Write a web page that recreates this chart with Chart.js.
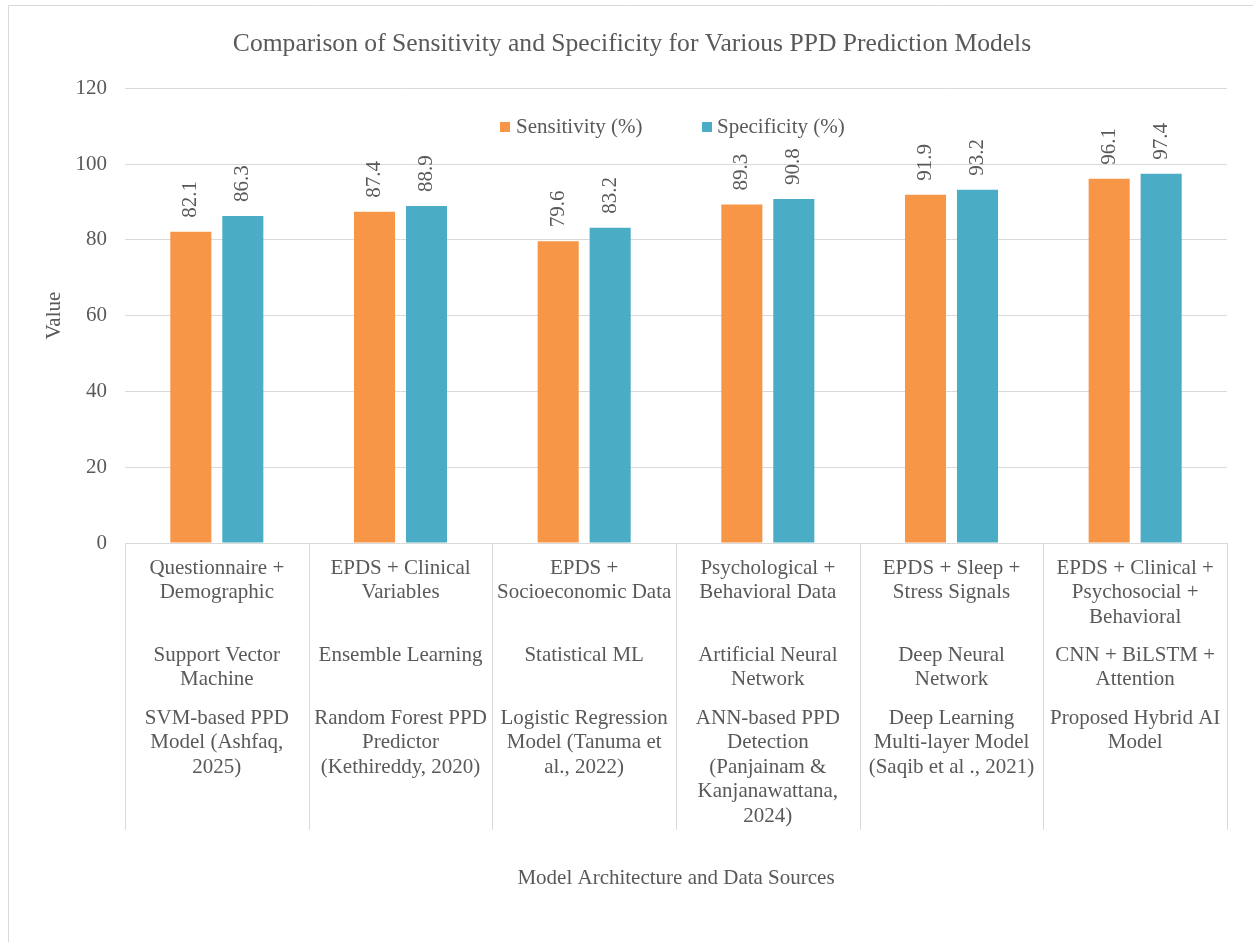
<!DOCTYPE html>
<html>
<head>
<meta charset="utf-8">
<script src="https://cdn.jsdelivr.net/npm/chart.js@4.4.1/dist/chart.umd.min.js"></script>
<style>
html,body{margin:0;padding:0;background:#fff;}
#wrap{width:1253px;height:942px;position:relative;}
</style>
</head>
<body>
<div id="wrap"><canvas id="c" width="1253" height="942"></canvas></div>
<script>
// ---- data ----
const dataSources = [
  ["Questionnaire +", "Demographic"],
  ["EPDS + Clinical", "Variables"],
  ["EPDS +", "Socioeconomic Data"],
  ["Psychological +", "Behavioral Data"],
  ["EPDS + Sleep +", "Stress Signals"],
  ["EPDS + Clinical +", "Psychosocial +", "Behavioral"]
];
const modelTypes = [
  ["Support Vector", "Machine"],
  ["Ensemble Learning"],
  ["Statistical ML"],
  ["Artificial Neural", "Network"],
  ["Deep Neural", "Network"],
  ["CNN + BiLSTM +", "Attention"]
];
const modelNames = [
  ["SVM-based PPD", "Model (Ashfaq,", "2025)"],
  ["Random Forest PPD", "Predictor", "(Kethireddy, 2020)"],
  ["Logistic Regression", "Model (Tanuma et", "al., 2022)"],
  ["ANN-based PPD", "Detection", "(Panjainam &", "Kanjanawattana,", "2024)"],
  ["Deep Learning", "Multi-layer Model", "(Saqib et al ., 2021)"],
  ["Proposed Hybrid AI", "Model"]
];
const sensitivity = [82.1, 87.4, 79.6, 89.3, 91.9, 96.1];
const specificity = [86.3, 88.9, 83.2, 90.8, 93.2, 97.4];
const seriesNames = ["Sensitivity (%)", "Specificity (%)"];
const yTicks = [0, 20, 40, 60, 80, 100, 120];

const FONT = "'Liberation Serif', 'Times New Roman', serif";
const TXT = "#595959";
const GRID = "#d9d9d9";
const COLORS = ["#F79646", "#4BACC6"];

const catLabels = modelNames.map(a => a.join(" "));

const multiLevelPlugin = {
  id: "multiLevel",
  afterDraw(chart) {
    const ctx = chart.ctx;
    const xs = chart.scales.x;
    const area = chart.chartArea;
    const n = catLabels.length;
    const w = (area.right - area.left) / n;
    ctx.save();
    // outer border
    ctx.strokeStyle = GRID; ctx.lineWidth = 1;
    ctx.beginPath();
    ctx.moveTo(8.5, 942); ctx.lineTo(8.5, 5.5); ctx.lineTo(1253, 5.5);
    ctx.stroke();
    // separators
    ctx.beginPath();
    for (let i = 0; i <= n; i++) {
      const x = Math.round(area.left + i * w) + 0.5;
      ctx.moveTo(x, area.bottom); ctx.lineTo(x, 830);
    }
    ctx.stroke();
    // labels
    ctx.fillStyle = TXT;
    ctx.font = "21px " + FONT;
    ctx.textAlign = "center";
    ctx.textBaseline = "middle";
    const lh = 24.6;
    const rows = [[dataSources, 568], [modelTypes, 655], [modelNames, 718]];
    for (let i = 0; i < n; i++) {
      const cx = xs.getPixelForValue(i);
      rows.forEach(([arr, y0]) => {
        arr[i].forEach((line, k) => ctx.fillText(line, cx, y0 + k * lh));
      });
    }
    // legend
    const legendItems = [[500, 516], [702, 717]];
    legendItems.forEach(([mx, tx], d) => {
      ctx.fillStyle = COLORS[d];
      ctx.fillRect(mx, 122, 10, 10);
      ctx.fillStyle = TXT;
      ctx.textAlign = "left";
      ctx.fillText(seriesNames[d], tx, 127);
    });
    ctx.restore();
  },
  afterDatasetsDraw(chart) {
    const ctx = chart.ctx;
    ctx.save();
    ctx.fillStyle = TXT;
    ctx.font = "21px " + FONT;
    ctx.textAlign = "left";
    ctx.textBaseline = "middle";
    chart.data.datasets.forEach((ds, di) => {
      const meta = chart.getDatasetMeta(di);
      meta.data.forEach((bar, i) => {
        ctx.save();
        ctx.translate(bar.x, bar.y - 14);
        ctx.rotate(-Math.PI / 2);
        ctx.fillText(ds.data[i].toFixed(1), 0, 0);
        ctx.restore();
      });
    });
    ctx.restore();
  }
};

new Chart(document.getElementById("c"), {
  type: "bar",
  data: {
    labels: catLabels,
    datasets: [
      { label: seriesNames[0], data: sensitivity, backgroundColor: COLORS[0] },
      { label: seriesNames[1], data: specificity, backgroundColor: COLORS[1] }
    ]
  },
  options: {
    responsive: false,
    animation: false,
    events: [],
    layout: { padding: { left: 37, right: 26, top: 0, bottom: 0 } },
    categoryPercentage: 0.566,
    barPercentage: 0.79,
    plugins: {
      legend: { display: false },
      tooltip: { enabled: false },
      title: {
        display: true,
        text: "Comparison of Sensitivity and Specificity for Various PPD Prediction Models",
        color: TXT,
        font: { family: FONT, size: 25.6, weight: "normal", lineHeight: 1.2 },
        padding: { top: 29, bottom: 28.5 }
      }
    },
    scales: {
      x: {
        grid: { display: false },
        border: { display: false },
        ticks: { display: false },
        title: {
          display: true, text: "Model Architecture and Data Sources", color: TXT,
          font: { family: FONT, size: 21 }, padding: { top: 0, bottom: 51 }
        },
        afterFit(s) { s.height = 399; }
      },
      y: {
        min: 0, max: 120,
        afterBuildTicks(s) { s.ticks = yTicks.map(v => ({ value: v })); },
        grid: { color: GRID, lineWidth: 1, drawTicks: false },
        border: { display: false },
        ticks: { color: TXT, font: { family: FONT, size: 21 }, padding: 18 },
        title: {
          display: true, text: "Value", color: TXT,
          font: { family: FONT, size: 21 }, padding: { top: 5, bottom: 0 }
        },
        afterFit(s) { s.width = 88; }
      }
    }
  },
  plugins: [multiLevelPlugin]
});
</script>
</body>
</html>
